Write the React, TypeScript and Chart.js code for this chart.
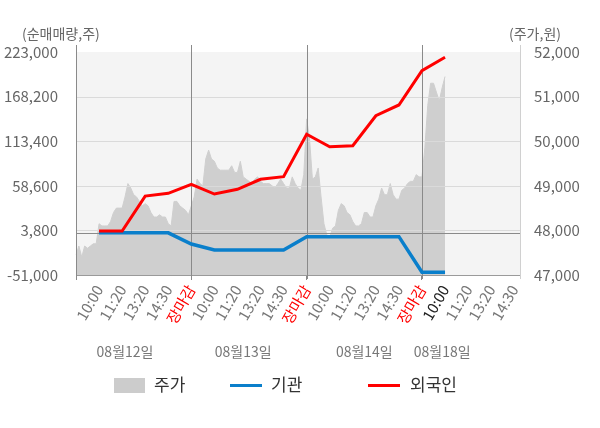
import React, { useEffect, useRef } from 'react';
import { Chart, registerables } from 'chart.js';

Chart.register(...registerables);

const FONT = "'Noto Sans CJK KR', 'Noto Sans', sans-serif";

// 일자, 시간 구간 라벨
const days = ['08월12일', '08월13일', '08월14일', '08월18일'];
const slotTimes = ['10:00', '11:20', '13:20', '14:30', '장마감'];
const slotsPerDay = [5, 5, 5, 4];

// 주가 (원) - 구간당 8개 포인트
const price0812 = [
  47450, 47650, 47400, 47650, 47600, 47650, 47700, 47700,
  48150, 48100, 48100, 48100, 48200, 48400, 48500, 48500,
  48500, 48750, 49050, 48950, 48800, 48750, 48650, 48550,
  48600, 48550, 48400, 48300, 48300, 48350, 48300, 48300,
  48150, 48100, 48650, 48650, 48550, 48500, 48450, 48350,
];
const price0813 = [
  48550, 48750, 49150, 49050, 49000, 49600, 49800, 49600,
  49550, 49400, 49350, 49350, 49350, 49350, 49450, 49300,
  49300, 49550, 49200, 49150, 49100, 49050, 49150, 49200,
  49100, 49050, 49050, 49050, 49000, 48950, 49050, 49150,
  49050, 48950, 48950, 49200, 49050, 48950, 48900, 49250,
];
const price0814 = [
  50500, 50050, 49150, 49200, 49400, 48750, 48150, 47900,
  47850, 48050, 48100, 48450, 48600, 48550, 48400, 48350,
  48200, 48100, 48100, 48150, 48400, 48400, 48300, 48300,
  48550, 48700, 48950, 48800, 48800, 49050, 48800, 48700,
  48700, 48900, 48950, 49050, 49100, 49100, 49250, 49200,
];
const price0818 = [49200, 49850, 50800, 51300, 51300, 51100, 50900, 51200, 51450];

// 순매매량 (주) - 각 시간 구간 끝 기준
const foreign = [
  3000, 3000, 46000, 49400, 60400,
  48500, 54300, 66600, 69800, 121900,
  106600, 107900, 144700, 157900, 200000,
  216500,
];
const institution = [
  800, 800, 800, 800, -12900,
  -20300, -20300, -20300, -20300, -3900,
  -3900, -3900, -3900, -3900, -47700,
  -47700,
];

const leftTicks = [-51000, 3800, 58600, 113400, 168200, 223000];
const rightTicks = [47000, 48000, 49000, 50000, 51000, 52000];

const SUB = 8; // points per time slot
const TOTAL = 155;

const tickText: string[] = [];
for (let i = 0; i < TOTAL; i++) tickText.push('');
let slotIdx = 0;
const dayStarts: number[] = [];
slotsPerDay.forEach((n) => {
  dayStarts.push(slotIdx * SUB);
  for (let k = 0; k < n; k++) {
    slotIdx++;
    tickText[slotIdx * SUB] = slotTimes[k];
  }
});

const prices = [...price0812, ...price0813, ...price0814, ...price0818];
const priceData = tickText.map((_, i) => (i < prices.length ? prices[i] : null));
const lineData = (arr: number[]) =>
  tickText.map((_, i) => (i > 0 && i % SUB === 0 && i / SUB <= arr.length ? arr[i / SUB - 1] : null));

const decor = {
  id: 'decor',
  beforeDraw(chart: any) {
    const { ctx, chartArea: a } = chart;
    ctx.save();
    ctx.fillStyle = '#f4f4f4';
    ctx.fillRect(a.left, a.top, a.right - a.left, a.bottom - a.top);
    ctx.restore();
  },
  afterDatasetDraw(chart: any, args: any) {
    if (args.index !== 2) return;
    const { ctx, chartArea: a, scales } = chart;
    const line = (x1: number, y1: number, x2: number, y2: number, c: string) => {
      ctx.strokeStyle = c;
      ctx.beginPath();
      ctx.moveTo(x1, y1);
      ctx.lineTo(x2, y2);
      ctx.stroke();
    };
    ctx.save();
    ctx.lineWidth = 1;
    leftTicks.slice(1, -1).forEach((v) => {
      const py = Math.round(scales.y.getPixelForValue(v)) + 0.5;
      line(a.left, py, a.right, py, '#dadada');
    });
    const zy = Math.round(scales.y.getPixelForValue(0)) + 0.5;
    line(a.left, zy, a.right, zy, '#8a8a8a');
    const by = Math.round(a.bottom) + 0.5;
    line(a.left, by, a.right, by, '#9a9a9a');
    const rx = Math.round(a.right) + 0.5;
    line(rx, a.top - 7, rx, a.bottom + 4, '#d0d0d0');
    [0, ...dayStarts.slice(1)].forEach((i) => {
      const px = Math.round(scales.x.getPixelForValue(i)) + 0.5;
      line(px, a.top - 7, px, a.bottom + 4, '#8a8a8a');
    });
    ctx.restore();
  },
  afterDraw(chart: any) {
    const { ctx, scales } = chart;
    ctx.save();
    ctx.font = `14px ${FONT}`;
    ctx.fillStyle = '#666';
    ctx.textBaseline = 'middle';
    ctx.textAlign = 'left';
    ctx.fillText('(순매매량,주)', 22, 34);
    ctx.fillText('(주가,원)', 509, 34);
    // 일자
    const dateAt = [17, 58, 100, 127];
    ctx.fillStyle = '#777';
    ctx.textAlign = 'center';
    days.forEach((d, k) => ctx.fillText(d, scales.x.getPixelForValue(dateAt[k]), 352));
    // 범례
    ctx.font = `17px ${FONT}`;
    ctx.fillStyle = '#cccccc';
    ctx.fillRect(114, 378, 31, 15);
    ctx.lineWidth = 3;
    ctx.strokeStyle = '#0a7fcb';
    ctx.beginPath();
    ctx.moveTo(230, 385.5);
    ctx.lineTo(262, 385.5);
    ctx.stroke();
    ctx.strokeStyle = '#ff0000';
    ctx.beginPath();
    ctx.moveTo(368, 385.5);
    ctx.lineTo(400, 385.5);
    ctx.stroke();
    ctx.fillStyle = '#333';
    ctx.textAlign = 'left';
    ctx.fillText('주가', 154, 385);
    ctx.fillText('기관', 271, 385);
    ctx.fillText('외국인', 410, 385);
    ctx.restore();
  },
};

const fmt = (v: any) => Number(v).toLocaleString('en-US');

const App: React.FC = () => {
  const chartRef = useRef<HTMLCanvasElement>(null);
  const chartInstance = useRef<Chart | null>(null);

  useEffect(() => {
    if (!chartRef.current) return;
    if (chartInstance.current) chartInstance.current.destroy();
    const ctx = chartRef.current.getContext('2d');
    if (!ctx) return;
    Chart.defaults.font.family = FONT;

    chartInstance.current = new Chart(ctx, {
      type: 'line',
      data: {
        labels: tickText.map((_, i) => String(i)),
        datasets: [
          {
            label: '외국인',
            data: lineData(foreign),
            yAxisID: 'y',
            borderColor: '#ff0000',
            borderWidth: 3,
            pointRadius: 0,
            spanGaps: true,
            fill: false,
            tension: 0,
            order: 1,
          },
          {
            label: '기관',
            data: lineData(institution),
            yAxisID: 'y',
            borderColor: '#0a7fcb',
            borderWidth: 3.5,
            pointRadius: 0,
            spanGaps: true,
            fill: false,
            tension: 0,
            order: 2,
          },
          {
            label: '주가',
            data: priceData,
            yAxisID: 'y1',
            borderColor: '#cfcfcf',
            backgroundColor: '#cfcfcf',
            borderWidth: 1,
            pointRadius: 0,
            fill: 'start',
            tension: 0,
            order: 3,
          },
        ],
      },
      options: {
        responsive: true,
        maintainAspectRatio: false,
        animation: false,
        layout: { padding: { top: 52, left: 0, right: 0, bottom: 0 } },
        plugins: {
          legend: { display: false },
          title: { display: false },
          tooltip: { enabled: false },
        },
        scales: {
          x: {
            type: 'category',
            offset: false,
            afterFit: (s: any) => {
              s.height = 153;
            },
            border: { display: false },
            grid: {
              display: true,
              drawOnChartArea: false,
              drawTicks: true,
              tickLength: 5,
              color: (c: any) => (dayStarts.includes(c.index) ? '#8a8a8a' : 'rgba(0,0,0,0)'),
            },
            ticks: {
              autoSkip: false,
              maxRotation: 60,
              minRotation: 60,
              padding: 2,
              font: { size: 15 },
              color: (c: any) => {
                const t = tickText[c.index];
                if (t === '장마감') return '#ff0000';
                if (c.index === dayStarts[3] + SUB) return '#222';
                return '#777';
              },
              callback: (_v: any, i: number) => tickText[i],
            },
          },
          y: {
            position: 'left',
            min: leftTicks[0],
            max: leftTicks[leftTicks.length - 1],
            afterBuildTicks: (s: any) => {
              s.ticks = leftTicks.map((v) => ({ value: v }));
            },
            afterFit: (s: any) => {
              s.width = 76;
            },
            border: { display: false },
            grid: { display: false },
            ticks: { color: '#666', font: { size: 15 }, padding: 10, callback: fmt },
          },
          y1: {
            position: 'right',
            min: rightTicks[0],
            max: rightTicks[rightTicks.length - 1],
            afterBuildTicks: (s: any) => {
              s.ticks = rightTicks.map((v) => ({ value: v }));
            },
            afterFit: (s: any) => {
              s.width = 80;
            },
            border: { display: false },
            grid: { display: false },
            ticks: { color: '#666', font: { size: 15 }, padding: 6, callback: fmt },
          },
        },
      },
      plugins: [decor],
    });

    return () => {
      if (chartInstance.current) {
        chartInstance.current.destroy();
        chartInstance.current = null;
      }
    };
  }, []);

  return (
    <div style={{ position: 'absolute', left: 0, top: 0, width: 600, height: 428, background: '#fff' }}>
      <canvas ref={chartRef} />
    </div>
  );
};

export default App;
